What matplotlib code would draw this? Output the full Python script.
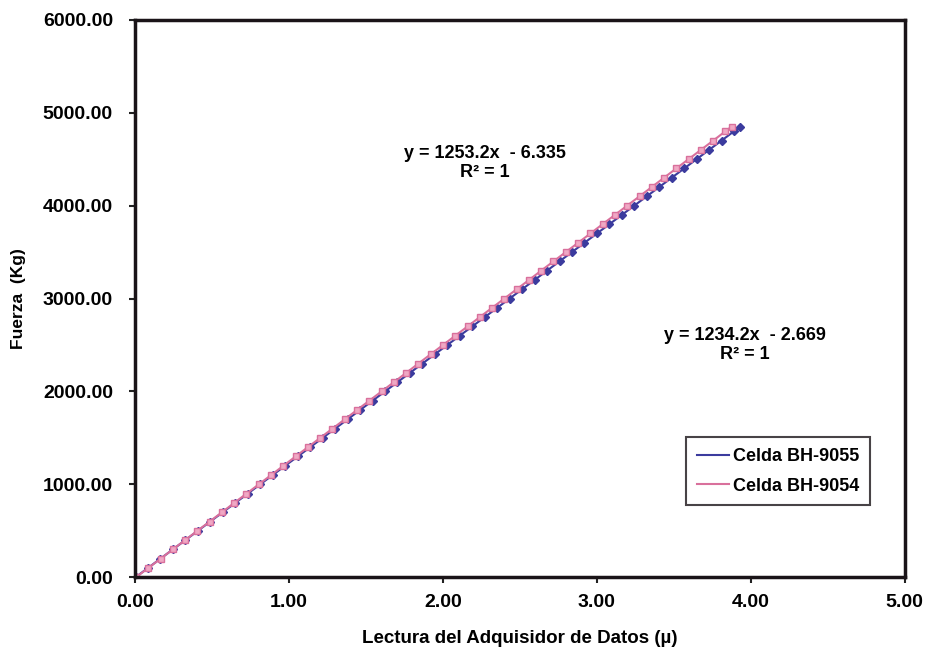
import matplotlib
matplotlib.use("Agg")
import matplotlib.pyplot as plt
from matplotlib.lines import Line2D

plt.rcParams["font.family"] = ["Liberation Sans", "DejaVu Sans"]
plt.rcParams["font.weight"] = "bold"

# Fuerza aplicada (Kg), pasos de 100
fuerza = [0, 100, 200, 300, 400, 500, 600, 700, 800, 900,
          1000, 1100, 1200, 1300, 1400, 1500, 1600, 1700, 1800, 1900,
          2000, 2100, 2200, 2300, 2400, 2500, 2600, 2700, 2800, 2900,
          3000, 3100, 3200, 3300, 3400, 3500, 3600, 3700, 3800, 3900,
          4000, 4100, 4200, 4300, 4400, 4500, 4600, 4700, 4800, 4850]

# lecturas Celda BH-9055
lect_9055 = [0.002, 0.083, 0.164, 0.245, 0.326, 0.407, 0.488, 0.569, 0.650, 0.731,
             0.812, 0.893, 0.974, 1.056, 1.137, 1.218, 1.299, 1.380, 1.461, 1.542,
             1.623, 1.704, 1.785, 1.866, 1.947, 2.028, 2.109, 2.190, 2.271, 2.352,
             2.433, 2.514, 2.595, 2.676, 2.757, 2.838, 2.919, 3.000, 3.081, 3.162,
             3.243, 3.324, 3.405, 3.486, 3.567, 3.648, 3.729, 3.810, 3.891, 3.932]

# lecturas Celda BH-9054
lect_9054 = [0.005, 0.085, 0.165, 0.244, 0.324, 0.404, 0.484, 0.564, 0.643, 0.723,
             0.803, 0.883, 0.963, 1.042, 1.122, 1.202, 1.282, 1.362, 1.441, 1.521,
             1.601, 1.681, 1.761, 1.840, 1.920, 2.000, 2.080, 2.160, 2.239, 2.319,
             2.399, 2.479, 2.559, 2.638, 2.718, 2.798, 2.878, 2.958, 3.037, 3.117,
             3.197, 3.277, 3.357, 3.436, 3.516, 3.596, 3.676, 3.756, 3.835, 3.875]

azul = "#3b3b9e"
rosa = "#d9709c"

fig = plt.figure(figsize=(9.26, 6.59), dpi=100)
ax = fig.add_axes([0.146, 0.124, 0.831, 0.846])

ax.plot(lect_9055, fuerza, color=azul, lw=1.5, marker="D", ms=4.5,
        mfc=azul, mec=azul)
ax.plot(lect_9054, fuerza, color=rosa, lw=1.5, marker="s", ms=4,
        mfc="#f0a8c4", mec=rosa, mew=1)

ax.set_xlim(0, 5)
ax.set_ylim(0, 6000)
ax.set_xticks([0, 1, 2, 3, 4, 5])
ax.set_yticks([0, 1000, 2000, 3000, 4000, 5000, 6000])
ax.set_xticklabels(["%.2f" % v for v in [0, 1, 2, 3, 4, 5]])
ax.set_yticklabels(["%.2f" % v for v in [0, 1000, 2000, 3000, 4000, 5000, 6000]])
ax.tick_params(labelsize=14, length=4, width=1.5, color="#222222", pad=8)
ax.tick_params(axis="y", pad=12)
for s in ax.spines.values():
    s.set_linewidth(2.5)
    s.set_color("#1a1418")

ax.set_xlabel("Lectura del Adquisidor de Datos (\u00b5)", fontsize=13.5,
              fontweight="bold", labelpad=14)
ax.set_ylabel("Fuerza  (Kg)", fontsize=12.5, fontweight="bold", labelpad=12)

ax.text(2.27, 4460, "y = 1253.2x  - 6.335\nR\u00b2 = 1", fontsize=13,
        ha="center", va="center", linespacing=1.15)
ax.text(3.96, 2495, "y = 1234.2x  - 2.669\nR\u00b2 = 1", fontsize=13,
        ha="center", va="center", linespacing=1.15)

handles = [Line2D([], [], color=azul, lw=1.5),
           Line2D([], [], color=rosa, lw=1.5)]
leg = ax.legend(handles, ["Celda BH-9055", "Celda BH-9054"], loc="lower right",
                bbox_to_anchor=(0.955, 0.129), borderaxespad=0, fontsize=13,
                frameon=True, fancybox=False, edgecolor="#1a1418",
                handlelength=1.8, handletextpad=0.2, borderpad=0.6,
                labelspacing=0.7)
leg.get_frame().set_linewidth(1.5)

fig.savefig("out.png", dpi=100)
